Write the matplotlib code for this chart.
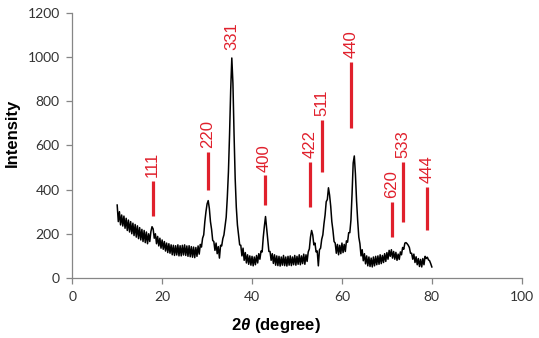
import numpy as np
import matplotlib
matplotlib.use("Agg")
import matplotlib.pyplot as plt

# XRD pattern, 2theta from 10 to 80 deg in 0.25 deg steps
intensity = [
    330, 255, 300, 240, 285, 235, 280, 225,   # 10
    270, 215, 262, 208, 255, 200, 248, 192,   # 12
    242, 185, 236, 178, 228, 172, 220, 165,   # 14
    215, 160, 208, 155, 200, 165, 210, 232,   # 16
    222, 180, 200, 155, 188, 145, 180, 135,   # 18
    172, 130, 165, 122, 158, 115, 155, 112,   # 20
    150, 105, 148, 102, 146, 104, 150, 100,   # 22
    146, 100, 148, 104, 150, 102, 145, 98,    # 24
    146, 96, 142, 94, 140, 92, 138, 98,       # 26
    145, 108, 152, 140, 180, 195, 255, 300,   # 28
    335, 350, 315, 255, 220, 170, 165, 125,   # 30
    158, 110, 142, 90, 148, 145, 178, 195,    # 32
    235, 275, 365, 480, 650, 850, 995, 880,   # 34
    650, 450, 320, 240, 195, 150, 148, 100,   # 36
    135, 80, 115, 68, 105, 62, 100, 58,       # 38
    98, 55, 95, 60, 102, 68, 110, 85,         # 40
    122, 118, 185, 235, 278, 225, 175, 120,   # 42
    120, 80, 110, 66, 105, 58, 100, 56,       # 44
    98, 54, 95, 58, 102, 56, 95, 54,          # 46
    98, 58, 100, 56, 95, 60, 102, 58,         # 48
    98, 62, 105, 60, 100, 65, 108, 62,        # 50
    105, 75, 118, 132, 185, 215, 195, 150,    # 52
    158, 118, 122, 55, 128, 135, 175, 195,    # 54
    245, 285, 345, 355, 408, 375, 325, 255,   # 56
    215, 165, 158, 112, 152, 105, 148, 110,   # 58
    158, 115, 152, 120, 168, 162, 205, 205,   # 60
    262, 380, 520, 552, 470, 350, 260, 185,   # 62
    155, 100, 128, 78, 110, 64, 100, 55,      # 64
    95, 52, 90, 50, 95, 55, 98, 60,           # 66
    100, 62, 105, 65, 102, 70, 110, 75,       # 68
    115, 85, 125, 98, 128, 90, 120, 85,       # 70
    116, 80, 108, 84, 118, 105, 138, 130,     # 72
    158, 160, 155, 148, 138, 112, 112, 85,    # 74
    108, 70, 96, 60, 88, 52, 84, 50,          # 76
    88, 60, 98, 88, 94, 82, 78, 65,           # 78
    50,                                       # 80
]
two_theta = np.linspace(10, 80, len(intensity))

# reflection markers: hkl, position, bar bottom, bar top
hkl = ["111", "220", "331", "400", "422", "511", "440", "620", "533", "444"]
peak_pos = [17.9, 30.2, 35.4, 42.8, 53.0, 55.6, 62.0, 71.1, 73.6, 79.0]
bar_lo = [280, 398, 1015, 330, 322, 480, 679, 185, 254, 217]
bar_hi = [440, 570, 1015, 465, 525, 716, 978, 344, 525, 412]

RED = "#E0202C"

plt.rcParams["mathtext.fontset"] = "custom"
plt.rcParams["mathtext.it"] = "Liberation Sans:italic:bold"
plt.rcParams["mathtext.rm"] = "Liberation Sans:bold"

fig = plt.figure(figsize=(5.39, 3.38), dpi=100)
ax = fig.add_axes([0.134, 0.1775, 0.834, 0.785])

ax.plot(two_theta, intensity, color="black", linewidth=1.1)

for h, x, lo, hi in zip(hkl, peak_pos, bar_lo, bar_hi):
    if hi > lo:
        ax.plot([x, x], [lo, hi], color=RED, linewidth=2.3, solid_capstyle="butt")
    ax.text(x, hi + 16, h, rotation=90, ha="center", va="bottom",
            color=RED, fontsize=12, family="Liberation Sans")

ax.set_xlim(0, 100)
ax.set_ylim(0, 1200)
ax.set_xticks([0, 20, 40, 60, 80, 100])
ax.set_yticks([0, 200, 400, 600, 800, 1000, 1200])

# excel-ish axes: only left and bottom, gray
for side in ["top", "right"]:
    ax.spines[side].set_visible(False)
for side in ["left", "bottom"]:
    ax.spines[side].set_color("#868686")
    ax.spines[side].set_linewidth(0.9)
ax.tick_params(axis="both", direction="out", length=4, width=0.9, color="#868686",
               labelsize=10, labelcolor="#333333", pad=5)
for lbl in ax.get_xticklabels() + ax.get_yticklabels():
    lbl.set_family("Lato")

ax.set_xlabel(r"$\mathit{2\theta}$ (degree)", fontsize=12, fontweight="bold",
              family="Liberation Sans")
ax.xaxis.set_label_coords(0.453, -0.145)
ax.set_ylabel("Intensity", fontsize=12, fontweight="bold", family="Liberation Sans")
ax.yaxis.set_label_coords(-0.116, 0.547)

fig.savefig("out.png", dpi=100)
